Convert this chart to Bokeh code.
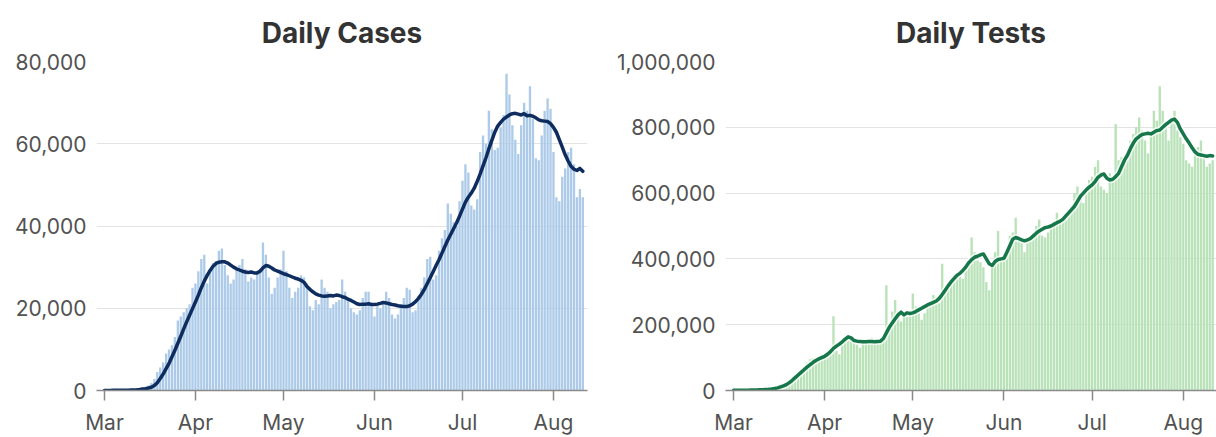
import pandas as pd
from bokeh.plotting import figure
from bokeh.layouts import row
from bokeh.models import Range1d, FixedTicker, NumeralTickFormatter, DatetimeTickFormatter, ColumnDataSource
from bokeh.embed import file_html
from bokeh.resources import INLINE

# ---------------- data ----------------
start_date = "2020-03-01"

# daily new cases, Mar 1 .. Aug 11
case_daily = [
    10, 20, 25, 30, 40, 60, 80, 100, 120, 180, 280, 400, 560, 700, 900, 1200, 1800, 2800, 4500, 5600,
    6800, 9000, 10000, 11000, 13000, 17000, 18000, 19000, 20000, 21000, 25000,
    26000, 29000, 32000, 33000, 26000, 29000, 31000, 31500, 34000, 34500, 30500, 28000, 26000, 27000, 30000,
    30500, 32000, 29500, 26500, 27500, 27000, 28500, 29500, 36000, 33000, 27500, 23500, 25000, 27500, 29500,
    34000, 29000, 25000, 22500, 24000, 25000, 28000, 27500, 26000, 20500, 19500, 22000, 21000, 27000, 25000,
    24000, 20000, 21000, 21500, 22000, 27000, 24000, 22500, 20000, 19000, 18500, 19500, 22500, 24000, 24000, 20500,
    18000, 21000, 20000, 21000, 24000, 22500, 18500, 17500, 18500, 21000, 22500, 25000, 24500, 19000, 19500,
    23000, 25000, 27500, 32000, 32500, 27000, 28000, 34000, 37000, 39000, 45500, 43000, 41000, 40000, 46000,
    51000, 55000, 53000, 45000, 44000, 46500, 58000, 62000, 60000, 68000, 63500, 58500, 59000, 64000, 67000,
    77000, 72000, 64500, 61000, 57500, 64500, 70000, 68000, 74000, 66000, 56500, 56000, 62000, 68000, 71000, 68500,
    58000, 47000, 46000, 52000, 54000, 58000, 59000, 55000, 47000, 49000, 47000,
]

# 7-day average of cases, thousands
case_avg_k = [
    0, 0, 0, 0.05, 0.05, 0.05, 0.06, 0.07, 0.08, 0.1, 0.13, 0.18, 0.25, 0.35, 0.45, 0.6,
    0.8, 1.2, 1.9, 2.9, 4.0, 5.3, 6.6, 8.2, 9.8, 11.5, 13.2, 15.0, 16.7, 18.3, 19.9,
    21.5, 23.2, 25.0, 26.6, 28.0, 29.2, 30.2, 30.9, 31.2, 31.3, 31.3, 31.0, 30.5, 30.0, 29.6,
    29.3, 29.0, 28.8, 28.7, 28.8, 28.6, 28.6, 29.0, 29.8, 30.4, 30.2, 29.8, 29.3, 29.0, 28.7,
    28.4, 28.2, 27.9, 27.6, 27.3, 27.1, 26.8, 26.3, 25.3, 24.6, 24.0, 23.5, 23.2, 23.0, 22.9,
    23.0, 23.1, 23.0, 23.2, 23.1, 22.8, 22.6, 22.2, 21.9, 21.5, 21.1, 20.9, 21.0, 21.0, 21.1, 20.9,
    20.9, 21.0, 21.2, 21.4, 21.3, 21.1, 20.9, 20.8, 20.6, 20.5, 20.4, 20.4, 20.6, 21.0, 21.6,
    22.4, 23.4, 24.6, 26.0, 27.4, 28.9, 30.4, 31.8, 33.4, 35.0, 36.6, 38.0, 39.4, 40.8, 42.4,
    44.1, 45.8, 47.0, 48.0, 49.2, 50.8, 52.6, 54.6, 56.6, 58.8, 60.8, 62.8, 64.3, 65.2, 66.0,
    66.5, 67.0, 67.3, 67.4, 67.2, 67.0, 67.3, 66.8, 66.9, 66.7, 66.3, 65.8, 65.6, 65.5, 65.4, 64.9,
    64.0, 62.8, 61.0, 59.2, 57.3, 55.8, 54.5, 53.8, 53.5, 54.0, 53.3,
]

# daily tests, thousands
test_daily_k = [
    0.5, 0.6, 0.6, 0.8, 1, 1.2, 1.5, 1.8, 2.2, 2.6, 3, 3.6, 4.5, 5.5, 7,
    10, 13, 18, 24, 32, 40, 46, 55, 62, 72, 85, 95, 98, 96, 104, 110,
    100, 115, 128, 226, 120, 110, 140, 150, 160, 165, 150, 140, 130, 145, 150,
    155, 160, 155, 145, 150, 160, 320, 200, 240, 275, 240, 210, 225, 225, 235,
    295, 255, 235, 215, 235, 260, 270, 290, 285, 265, 385, 300, 310, 330, 350,
    355, 345, 340, 370, 395, 465, 420, 395, 390, 375, 330, 305, 380, 420, 485, 400,
    395, 420, 470, 480, 525, 460, 450, 420, 450, 470, 480, 500, 520, 470, 465,
    480, 500, 515, 540, 520, 515, 520, 540, 560, 600, 620, 600, 570, 600, 640,
    650, 680, 700, 620, 610, 600, 660, 640, 810, 700, 710, 690, 700, 760, 780,
    800, 830, 790, 760, 720, 780, 850, 820, 925, 850, 800, 760, 830, 850, 790, 770,
    750, 700, 690, 680, 720, 740, 760, 720, 680, 690, 700,
]

# 7-day average of tests, thousands
test_avg_k = [
    0.5, 0.5, 0.6, 0.7, 0.8, 1, 1.2, 1.5, 1.8, 2.2, 2.6, 3, 3.5, 4.5, 6,
    8, 11, 14, 18, 24, 31, 39, 47, 55, 63, 71, 78, 85, 91, 96, 100,
    104, 110, 118, 128, 135, 141, 148, 156, 163, 160, 152, 150, 149, 148, 148,
    149, 149, 148, 149, 150, 158, 175, 192, 205, 218, 230, 238, 230, 236, 234,
    236, 240, 245, 250, 255, 260, 264, 268, 272, 280, 292, 305, 318, 330, 340,
    350, 356, 365, 375, 388, 398, 405, 408, 412, 415, 400, 385, 380, 392, 398, 400,
    402, 420, 440, 460, 465, 462, 458, 455, 458, 462, 470, 478, 485, 490, 495,
    497, 500, 505, 510, 514, 520, 530, 540, 550, 560, 575, 590, 600, 610, 618,
    625, 635, 648, 655, 658, 645, 640, 642, 650, 660, 680, 700, 715, 735, 752,
    765, 772, 778, 780, 782, 780, 785, 790, 792, 800, 808, 815, 822, 825, 815, 795,
    780, 765, 752, 738, 725, 718, 716, 714, 712, 714, 713,
]

month_ticks = ["2020-03-01", "2020-04-01", "2020-05-01", "2020-06-01", "2020-07-01", "2020-08-01"]
case_yticks = [0, 20000, 40000, 60000, 80000]
test_yticks = [0, 200000, 400000, 600000, 800000, 1000000]
titles = ["Daily Cases", "Daily Tests"]

# ---------------- build ----------------
dates = pd.date_range(start_date, periods=len(case_daily), freq="D")
day_ms = 86400000
t0 = pd.Timestamp(start_date)

FONT = "Inter"
TICK_COLOR = "#525252"


def make_panel(title, daily, avg, yticks, ymax, bar_color, line_color, halo,
               width, min_left, min_right, x_end_days):
    src = ColumnDataSource(dict(date=dates, daily=daily, avg=avg))
    p = figure(width=width, height=437, output_backend="svg", toolbar_location=None,
               x_axis_type="datetime",
               x_range=Range1d(t0 - pd.Timedelta(days=2.72), t0 + pd.Timedelta(days=x_end_days)),
               y_range=Range1d(0, ymax),
               min_border_left=min_left, min_border_right=min_right,
               min_border_top=61, min_border_bottom=47)
    p.vbar(x="date", top="daily", width=day_ms * 0.8, source=src,
           fill_color=bar_color, line_color=None)
    if halo:
        p.line(x="date", y="avg", source=src, line_color="white", line_width=7, line_alpha=0.7)
    p.line(x="date", y="avg", source=src, line_color=line_color, line_width=3.5,
           line_join="round", line_cap="round")

    p.title.text = title
    p.title.align = "center"
    p.title.text_font = FONT
    p.title.text_font_size = "28px"
    p.title.text_font_style = "bold"
    p.title.text_color = "#333333"
    p.title.standoff = 23

    p.outline_line_color = None
    p.background_fill_color = "white"
    p.border_fill_color = "white"

    xa = p.xaxis[0]
    xa.ticker = FixedTicker(ticks=[pd.Timestamp(d).value // 10**6 for d in month_ticks])
    xa.formatter = DatetimeTickFormatter(days="%b", months="%b", years="%b", hours="%b")
    xa.axis_line_color = "#8a8a8a"
    xa.axis_line_width = 1.5
    xa.major_tick_line_color = "#8a8a8a"
    xa.major_tick_line_width = 1.5
    xa.major_tick_in = 0
    xa.major_tick_out = 10
    xa.minor_tick_line_color = None
    xa.major_label_text_font = FONT
    xa.major_label_text_font_size = "21px"
    xa.major_label_text_color = TICK_COLOR
    xa.major_label_standoff = 9

    ya = p.yaxis[0]
    ya.ticker = FixedTicker(ticks=yticks)
    ya.formatter = NumeralTickFormatter(format="0,0")
    ya.axis_line_color = None
    ya.major_tick_line_color = None
    ya.minor_tick_line_color = None
    ya.major_label_text_font = FONT
    ya.major_label_text_font_size = "21px"
    ya.major_label_text_color = TICK_COLOR
    ya.major_label_standoff = 4

    p.xgrid.grid_line_color = None
    p.ygrid.grid_line_color = "#e3e3e3"
    p.ygrid.grid_line_width = 1
    return p


left = make_panel(titles[0], case_daily, [v * 1000 for v in case_avg_k], case_yticks, 80000,
                  "#adcbe9", "#0e2d5e", False, 96 + 491 + 20, 96, 20, 164.6)
right = make_panel(titles[1], [v * 1000 for v in test_daily_k], [v * 1000 for v in test_avg_k],
                   test_yticks, 1000000, "#b9e2b9", "#16774a", True, 118 + 491, 118, 0, 164.3)

layout = row(left, right, spacing=0)
open("out.html", "w").write(file_html(layout, INLINE))
